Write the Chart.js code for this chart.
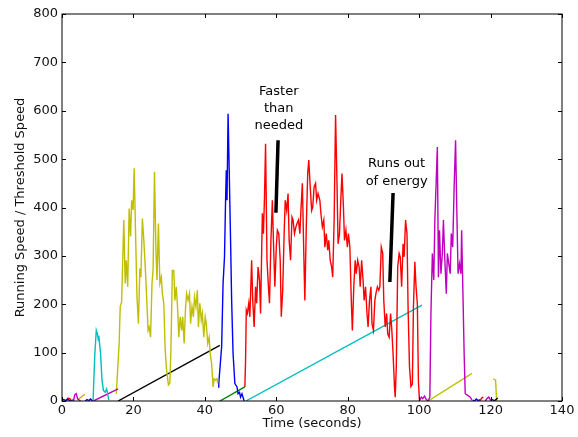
<!DOCTYPE html>
<html>
<head>
<meta charset="utf-8">
<script src="https://cdn.jsdelivr.net/npm/chart.js@4/dist/chart.umd.min.js"></script>
<style>
  body { margin: 0; background: #fff; }
  #wrap { width: 578px; height: 437px; }
</style>
</head>
<body>
<div id="wrap"><canvas id="runChart"></canvas></div>
<script>
// axis ticks
var xTicks = [0, 20, 40, 60, 80, 100, 120, 140];
var yTicks = [0, 100, 200, 300, 400, 500, 600, 700, 800];

// little traces at the start
var startBlueT = [0, 0.5, 1, 1.5, 2, 2.5];
var startBlueV = [2, 3, 1, 4, 2, 0];
var startRedT = [1.2, 1.7, 2.2, 2.7];
var startRedV = [0, 6, 5, 0];
var startGreenT = [2.5, 3.2];
var startGreenV = [0, 3];
var startMagentaT = [3.2, 3.6, 4.0, 4.4, 4.8, 5.2];
var startMagentaV = [0, 13, 15, 4, 2, 0];
var startYellowT = [4.5, 6.4];
var startYellowV = [3, 14];
var startBlue2T = [6.5, 7, 7.5, 8, 8.5];
var startBlue2V = [0, 3, 1, 4, 0];

// cyan run
var cyanRunT = [8.7, 9.2, 9.6, 9.9, 10.2, 10.3, 10.8, 11.2, 11.6, 12.1, 12.5, 12.7, 13.1];
var cyanRunV = [1, 98, 146, 139, 125, 135, 98, 43, 22, 18, 25, 18, 2];
var magentaLineT = [8.8, 15.7];
var magentaLineV = [0, 25];

// yellow run
var yellowRunT = [15.2, 16.0, 16.3, 16.7, 17.3, 17.7, 18.0, 18.4, 18.8, 19.2, 19.5, 19.9, 20.2, 20.7, 21.0, 21.4,
  21.8, 22.1, 22.5, 22.9, 23.3, 23.7, 24.1, 24.4, 24.8, 25.2, 25.5, 25.9, 26.3, 26.6, 27.0, 27.4, 27.8, 28.1, 28.5,
  28.9, 29.2, 29.8, 30.2, 30.5, 30.9, 31.3, 31.6, 32.0, 32.4, 32.7, 33.1, 33.5, 33.8, 34.2, 34.6, 34.9, 35.3, 35.7,
  36.0, 36.4, 36.8, 37.1, 37.5, 37.9, 38.2, 38.6, 39.0, 39.3, 39.7, 40.1, 40.4, 40.8, 41.2, 41.5, 41.9, 42.3, 42.6,
  43.0, 43.4, 43.6];
var yellowRunV = [15, 119, 195, 205, 374, 243, 291, 236, 398, 340, 415, 395, 481, 312, 215, 160,
  274, 256, 377, 334, 279, 215, 146, 153, 132, 243, 271, 474, 312, 250, 367, 243, 256, 222, 202,
  105, 70, 33, 37, 105, 270, 270, 208, 236, 188, 132, 174, 146, 174, 119, 195, 222, 208, 222,
  160, 195, 174, 215, 195, 229, 153, 202, 167, 181, 132, 174, 160, 119, 132, 98, 77, 29, 46,
  43, 46, 37];
var blackLineT = [15.7, 44.2];
var blackLineV = [0, 115];

// blue run
var blueRunT = [43.7, 43.9, 44.7, 45.1, 45.5, 45.8, 46.0, 46.2, 46.5, 46.8, 47.2, 47.5, 47.9, 48.4, 49.0, 49.3,
  49.7, 50.0, 50.4, 50.8, 51.0];
var blueRunV = [29, 37, 112, 243, 298, 415, 477, 415, 594, 484, 332, 208, 98, 36, 29, 15, 18, 8, 15, 5, 0];
var greenLineT = [44.2, 51.2];
var greenLineV = [0, 29];

// red run
var redRunT = [51.2, 51.4, 51.6, 51.9, 52.3, 52.6, 53.1, 53.4, 53.8, 54.2, 54.5, 54.9, 55.3, 55.6, 56.1, 56.4,
  56.7, 57.0, 57.4, 57.8, 58.1, 58.5, 58.9, 59.2, 59.6, 60.0, 60.3, 60.7, 61.1, 61.4, 61.8, 62.2, 62.5, 62.9,
  63.3, 63.6, 64.0, 64.4, 64.7, 65.1, 65.5, 65.8, 66.2, 66.6, 66.9, 67.3, 67.7, 68.0, 68.4, 68.8, 69.1, 69.5,
  69.9, 70.2, 70.6, 71.0, 71.3, 71.7,
  72.2, 72.5, 72.9, 73.3, 73.6, 74.0, 74.4, 74.7, 75.1, 75.5, 75.8, 76.2, 76.6, 77.0, 77.3, 77.7, 78.1, 78.4,
  78.8, 79.1, 79.5, 79.9, 80.2, 80.6, 81.0, 81.3, 81.7, 82.1, 82.4, 82.8, 83.2, 83.5, 83.9, 84.3, 84.6, 85.0,
  85.4, 85.7, 86.1, 86.5, 86.8, 87.2, 87.6, 87.9, 88.3, 88.7, 89.0, 89.4, 89.8, 90.1, 90.5, 90.9, 91.2, 91.6,
  92.0, 92.3, 92.7, 93.1, 93.3, 93.6, 94.0, 94.4, 94.7, 95.1, 95.5, 95.8, 96.2, 96.6, 96.9, 97.3, 97.7, 98.1,
  98.4, 98.8, 99.1, 99.5, 99.8, 100.1];
var redRunV = [29, 84, 188, 181, 202, 174, 291, 209, 153, 236, 202, 277, 250, 181, 388, 346,
  422, 532, 291, 236, 202, 332, 415, 332, 236, 318, 353, 346, 291, 174, 229, 346, 415, 394,
  429, 332, 291, 380, 374, 346, 360, 367, 374, 346, 394, 450, 305, 208, 360, 470, 498, 443,
  394, 401, 443, 450, 415, 429,
  415, 387, 360, 374, 318, 346, 312, 332, 291, 277, 256, 374, 591, 450, 325, 346, 422, 470,
  401, 332, 353, 318, 346, 318, 208, 146, 236, 291, 263, 291, 277, 236, 291, 250, 208, 236,
  181, 153, 208, 236, 160, 146, 208, 222, 236, 229, 236, 318, 305, 208, 153, 181, 139, 132,
  181, 153, 98, 29, 8, 70, 277, 305, 298, 236, 325, 298, 374, 346, 194, 70, 30, 35,
  194, 288, 240, 200, 40, 0];
var cyanLineT = [51.5, 100.8];
var cyanLineV = [0, 198];

// magenta run
var magentaRunT = [100.2, 100.6, 101.0, 101.5, 102.0, 102.5, 103.0, 103.3, 103.7, 104.1, 104.4, 105.1, 105.4,
  105.7, 106.1, 106.5, 106.8, 107.2, 107.6, 107.9, 108.3, 108.7, 109.0, 109.4, 109.8, 110.2, 110.6, 110.9,
  111.3, 111.7, 111.9, 112.3, 112.6, 112.9, 113.5, 114.3, 114.8];
var magentaRunV = [2, 8, 5, 10, 3, 0, 8, 181, 305, 250, 374, 525, 256,
  353, 263, 305, 374, 291, 222, 305, 284, 263, 346, 318, 443, 539, 374, 263,
  284, 263, 353, 208, 98, 15, 12, 8, 2];
var yellowLineT = [102.5, 114.8];
var yellowLineV = [0, 57];

// little traces at the end
var endBlueT = [115, 115.5, 116, 116.5, 117];
var endBlueV = [2, 0, 4, 1, 3];
var endRedT = [117, 117.5, 118];
var endRedV = [0, 6, 8];
var endMagentaT = [118.5, 119, 119.5, 120];
var endMagentaV = [0, 5, 8, 2];
var endBlue2T = [120, 120.5, 121];
var endBlue2V = [0, 3, 1];
var endBlackT = [121, 121.5, 122];
var endBlackV = [0, 3, 6];
var endYellowT = [120.7, 121.4, 121.7];
var endYellowV = [46, 43, 0];

// annotation bars and texts
var fasterBarT = [59.9, 60.5];
var fasterBarV = [389, 539];
var energyBarT = [91.8, 92.7];
var energyBarV = [246, 430];
var noteLines = ["Faster", "than", "needed", "Runs out", "of energy"];
var noteT = [60.7, 60.7, 60.7, 93.7, 93.7];
var noteV = [639, 604, 570, 490, 453];

var BLUE = '#0000ff', GREEN = '#008000', RED = '#ff0000', CYAN = '#00bfbf',
    MAGENTA = '#bf00bf', YELLOW = '#bfbf00', BLACK = '#000000';
var FONT = "'DejaVu Sans', sans-serif";

function pts(t, v) {
    var out = [];
    for (var i = 0; i < Math.min(t.length, v.length); i++) {
        out.push({x: t[i], y: v[i]});
    }
    return out;
}

function series(t, v, color, width) {
    return {
        data: pts(t, v),
        borderColor: color,
        borderWidth: width || 1.4,
        pointRadius: 0,
        showLine: true,
        fill: false,
        tension: 0
    };
}

var datasets = [
    series(startBlueT, startBlueV, BLUE),
    series(startRedT, startRedV, RED),
    series(startGreenT, startGreenV, GREEN),
    series(startMagentaT, startMagentaV, MAGENTA),
    series(startYellowT, startYellowV, '#e0a020'),
    series(startBlue2T, startBlue2V, BLUE),
    series(cyanRunT, cyanRunV, CYAN),
    series(magentaLineT, magentaLineV, MAGENTA),
    series(yellowRunT, yellowRunV, YELLOW),
    series(blackLineT, blackLineV, BLACK),
    series(blueRunT, blueRunV, BLUE),
    series(greenLineT, greenLineV, GREEN),
    series(redRunT, redRunV, RED),
    series(cyanLineT, cyanLineV, CYAN),
    series(magentaRunT, magentaRunV, MAGENTA),
    series(yellowLineT, yellowLineV, YELLOW),
    series(endBlueT, endBlueV, BLUE),
    series(endRedT, endRedV, RED),
    series(endMagentaT, endMagentaV, MAGENTA),
    series(endBlue2T, endBlue2V, BLUE),
    series(endBlackT, endBlackV, BLACK),
    series(endYellowT, endYellowV, YELLOW),
    series(fasterBarT, fasterBarV, BLACK, 3.5),
    series(energyBarT, energyBarV, BLACK, 3.5)
];

// frame with inward ticks on all four sides, plus the text notes
var framePlugin = {
    id: 'frame',
    afterDatasetsDraw: function (chart) {
        var ctx = chart.ctx, a = chart.chartArea;
        var xs = chart.scales.x, ys = chart.scales.y;
        ctx.save();
        ctx.strokeStyle = '#000';
        ctx.lineWidth = 1;
        ctx.strokeRect(a.left, a.top, a.right - a.left, a.bottom - a.top);
        xTicks.forEach(function (t) {
            var px = Math.round(xs.getPixelForValue(t)) + 0.5;
            ctx.beginPath();
            ctx.moveTo(px, a.bottom); ctx.lineTo(px, a.bottom - 4);
            ctx.moveTo(px, a.top); ctx.lineTo(px, a.top + 4);
            ctx.stroke();
        });
        yTicks.forEach(function (v) {
            var py = Math.round(ys.getPixelForValue(v)) + 0.5;
            ctx.beginPath();
            ctx.moveTo(a.left, py); ctx.lineTo(a.left + 4, py);
            ctx.moveTo(a.right, py); ctx.lineTo(a.right - 4, py);
            ctx.stroke();
        });
        ctx.fillStyle = '#000';
        ctx.font = '13px ' + FONT;
        ctx.textAlign = 'center';
        ctx.textBaseline = 'middle';
        for (var i = 0; i < noteLines.length; i++) {
            ctx.fillText(noteLines[i], xs.getPixelForValue(noteT[i]), ys.getPixelForValue(noteV[i]));
        }
        ctx.restore();
    }
};

var runCanvas = document.getElementById('runChart');
var runChart = new Chart(runCanvas, {
    type: 'scatter',
    data: {datasets: datasets},
    options: {
        responsive: true,
        maintainAspectRatio: false,
        animation: false,
        layout: {padding: {top: 14, right: 16, left: 0, bottom: 0}},
        plugins: {
            legend: {display: false},
            tooltip: {enabled: false}
        },
        scales: {
            x: {
                type: 'linear',
                min: 0,
                max: 140,
                afterFit: function (scale) { scale.height = 36; },
                afterBuildTicks: function (scale) {
                    scale.ticks = xTicks.map(function (v) { return {value: v}; });
                },
                grid: {display: false, drawTicks: false},
                border: {display: false},
                ticks: {color: '#111', padding: 2, font: {family: FONT, size: 13}, maxRotation: 0},
                title: {
                    display: true,
                    text: 'Time (seconds)',
                    color: '#111',
                    font: {family: FONT, size: 13},
                    padding: {top: 0, bottom: 6}
                }
            },
            y: {
                type: 'linear',
                min: 0,
                max: 800,
                afterFit: function (scale) { scale.width = 62; },
                afterBuildTicks: function (scale) {
                    scale.ticks = yTicks.map(function (v) { return {value: v}; });
                },
                grid: {display: false, drawTicks: false},
                border: {display: false},
                ticks: {color: '#111', padding: 4, font: {family: FONT, size: 13}},
                title: {
                    display: true,
                    text: 'Running Speed / Threshold Speed',
                    color: '#111',
                    font: {family: FONT, size: 13},
                    padding: {top: 13, bottom: 0}
                }
            }
        }
    },
    plugins: [framePlugin]
});
</script>
</body>
</html>
